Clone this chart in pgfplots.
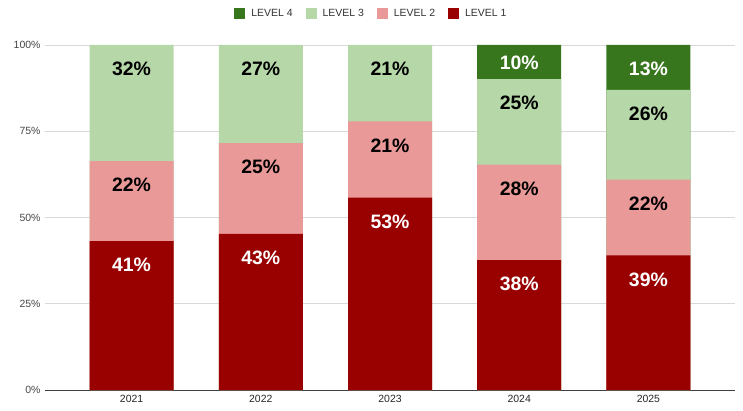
\documentclass[border=0pt]{standalone}
\usepackage{pgfplots}
\usepackage{pgfplotstable}
\usepackage{fontspec}
\setmainfont{Liberation Sans}
\pgfplotsset{compat=1.18}
\definecolor{lone}{HTML}{990000}
\definecolor{ltwo}{HTML}{EA9999}
\definecolor{lthree}{HTML}{B6D7A8}
\definecolor{lfour}{HTML}{38761D}
\definecolor{gridc}{HTML}{D9D9D9}
\definecolor{tickc}{HTML}{444444}
% cumulative tops of each level (percent of bar, normalized) and displayed labels
% raw shares: 2021 41/22/32, 2022 43/25/27, 2023 53/21/21, 2024 38/28/25/10, 2025 39/22/26/13
\pgfplotstableread{
x y lab off
0 43.158 41\% 17
1 45.263 43\% 17
2 55.789 53\% 17
3 37.624 38\% 17
4 39.000 39\% 17
}\levone
\pgfplotstableread{
x y lab off
0 66.316 22\% 17
1 71.579 25\% 17
2 77.895 21\% 17
3 65.347 28\% 17
4 61.000 22\% 17
}\levtwo
\pgfplotstableread{
x y lab off
0 100 32\% 17
1 100 27\% 17
2 100 21\% 17
3 90.099 25\% 17
4 87.000 26\% 17
}\levthree
\pgfplotstableread{
x y lab off
3 100 10\% 11
4 100 13\% 17
}\levfour
\begin{document}
\begin{tikzpicture}
\begin{axis}[
  name=ax,
  scale only axis,
  width=690bp, height=345bp,
  ybar, bar shift=0pt,
  bar width=84bp,
  xmin=-0.67, xmax=4.67,
  ymin=0, ymax=100,
  xtick={0,1,2,3,4},
  xticklabels={2021,2022,2023,2024,2025},
  ytick={0,25,50,75,100},
  yticklabel={\pgfmathprintnumber{\tick}\%},
  /pgf/number format/assume math mode=true,
  ticklabel style={font=\fontsize{10.5}{12}\selectfont, text=tickc},
  xticklabel style={text=black!85, yshift=-2bp},
  major tick length=0pt,
  ymajorgrids,
  grid style={gridc, line width=0.8pt},
  axis x line*=bottom,
  axis y line*=left,
  y axis line style={draw=none},
  x axis line style={black!75, line width=0.9pt},
  xtick style={draw=none},
  ytick style={draw=none},
  yticklabel style={xshift=-1bp},
  enlargelimits=false,
  clip=false,
  point meta=explicit symbolic,
  nodes near coords,
  visualization depends on={\thisrow{off} \as \off},
  nodes near coords style={anchor=north, inner sep=0pt, yshift=-\off bp,
    font=\fontsize{19.5}{19.5}\selectfont\bfseries},
  legend columns=4,
  legend style={draw=none, at={(0.473,1)}, anchor=center, yshift=31bp,
    font=\fontsize{10.5}{12}\selectfont, text=black!80,
    /tikz/every odd column/.append style={column sep=4bp},
    /tikz/every even column/.append style={column sep=11bp}},
  legend image code/.code={\fill[#1] (0bp,-5.5bp) rectangle (11bp,5.5bp);},
]
\addplot[fill=lfour, draw=none, nodes near coords style={text=white}] table[x=x, y=y, meta=lab] {\levfour};
\addlegendentry{LEVEL 4}
\addplot[fill=lthree, draw=none, nodes near coords style={text=black}] table[x=x, y=y, meta=lab] {\levthree};
\addlegendentry{LEVEL 3}
\addplot[fill=ltwo, draw=none, nodes near coords style={text=black}] table[x=x, y=y, meta=lab] {\levtwo};
\addlegendentry{LEVEL 2}
\addplot[fill=lone, draw=none, nodes near coords style={text=white}] table[x=x, y=y, meta=lab] {\levone};
\addlegendentry{LEVEL 1}
\end{axis}
\pgfresetboundingbox
\path ([xshift=-45bp,yshift=-21bp]ax.south west) rectangle ([xshift=8bp,yshift=45bp]ax.north east);
\end{tikzpicture}
\end{document}
